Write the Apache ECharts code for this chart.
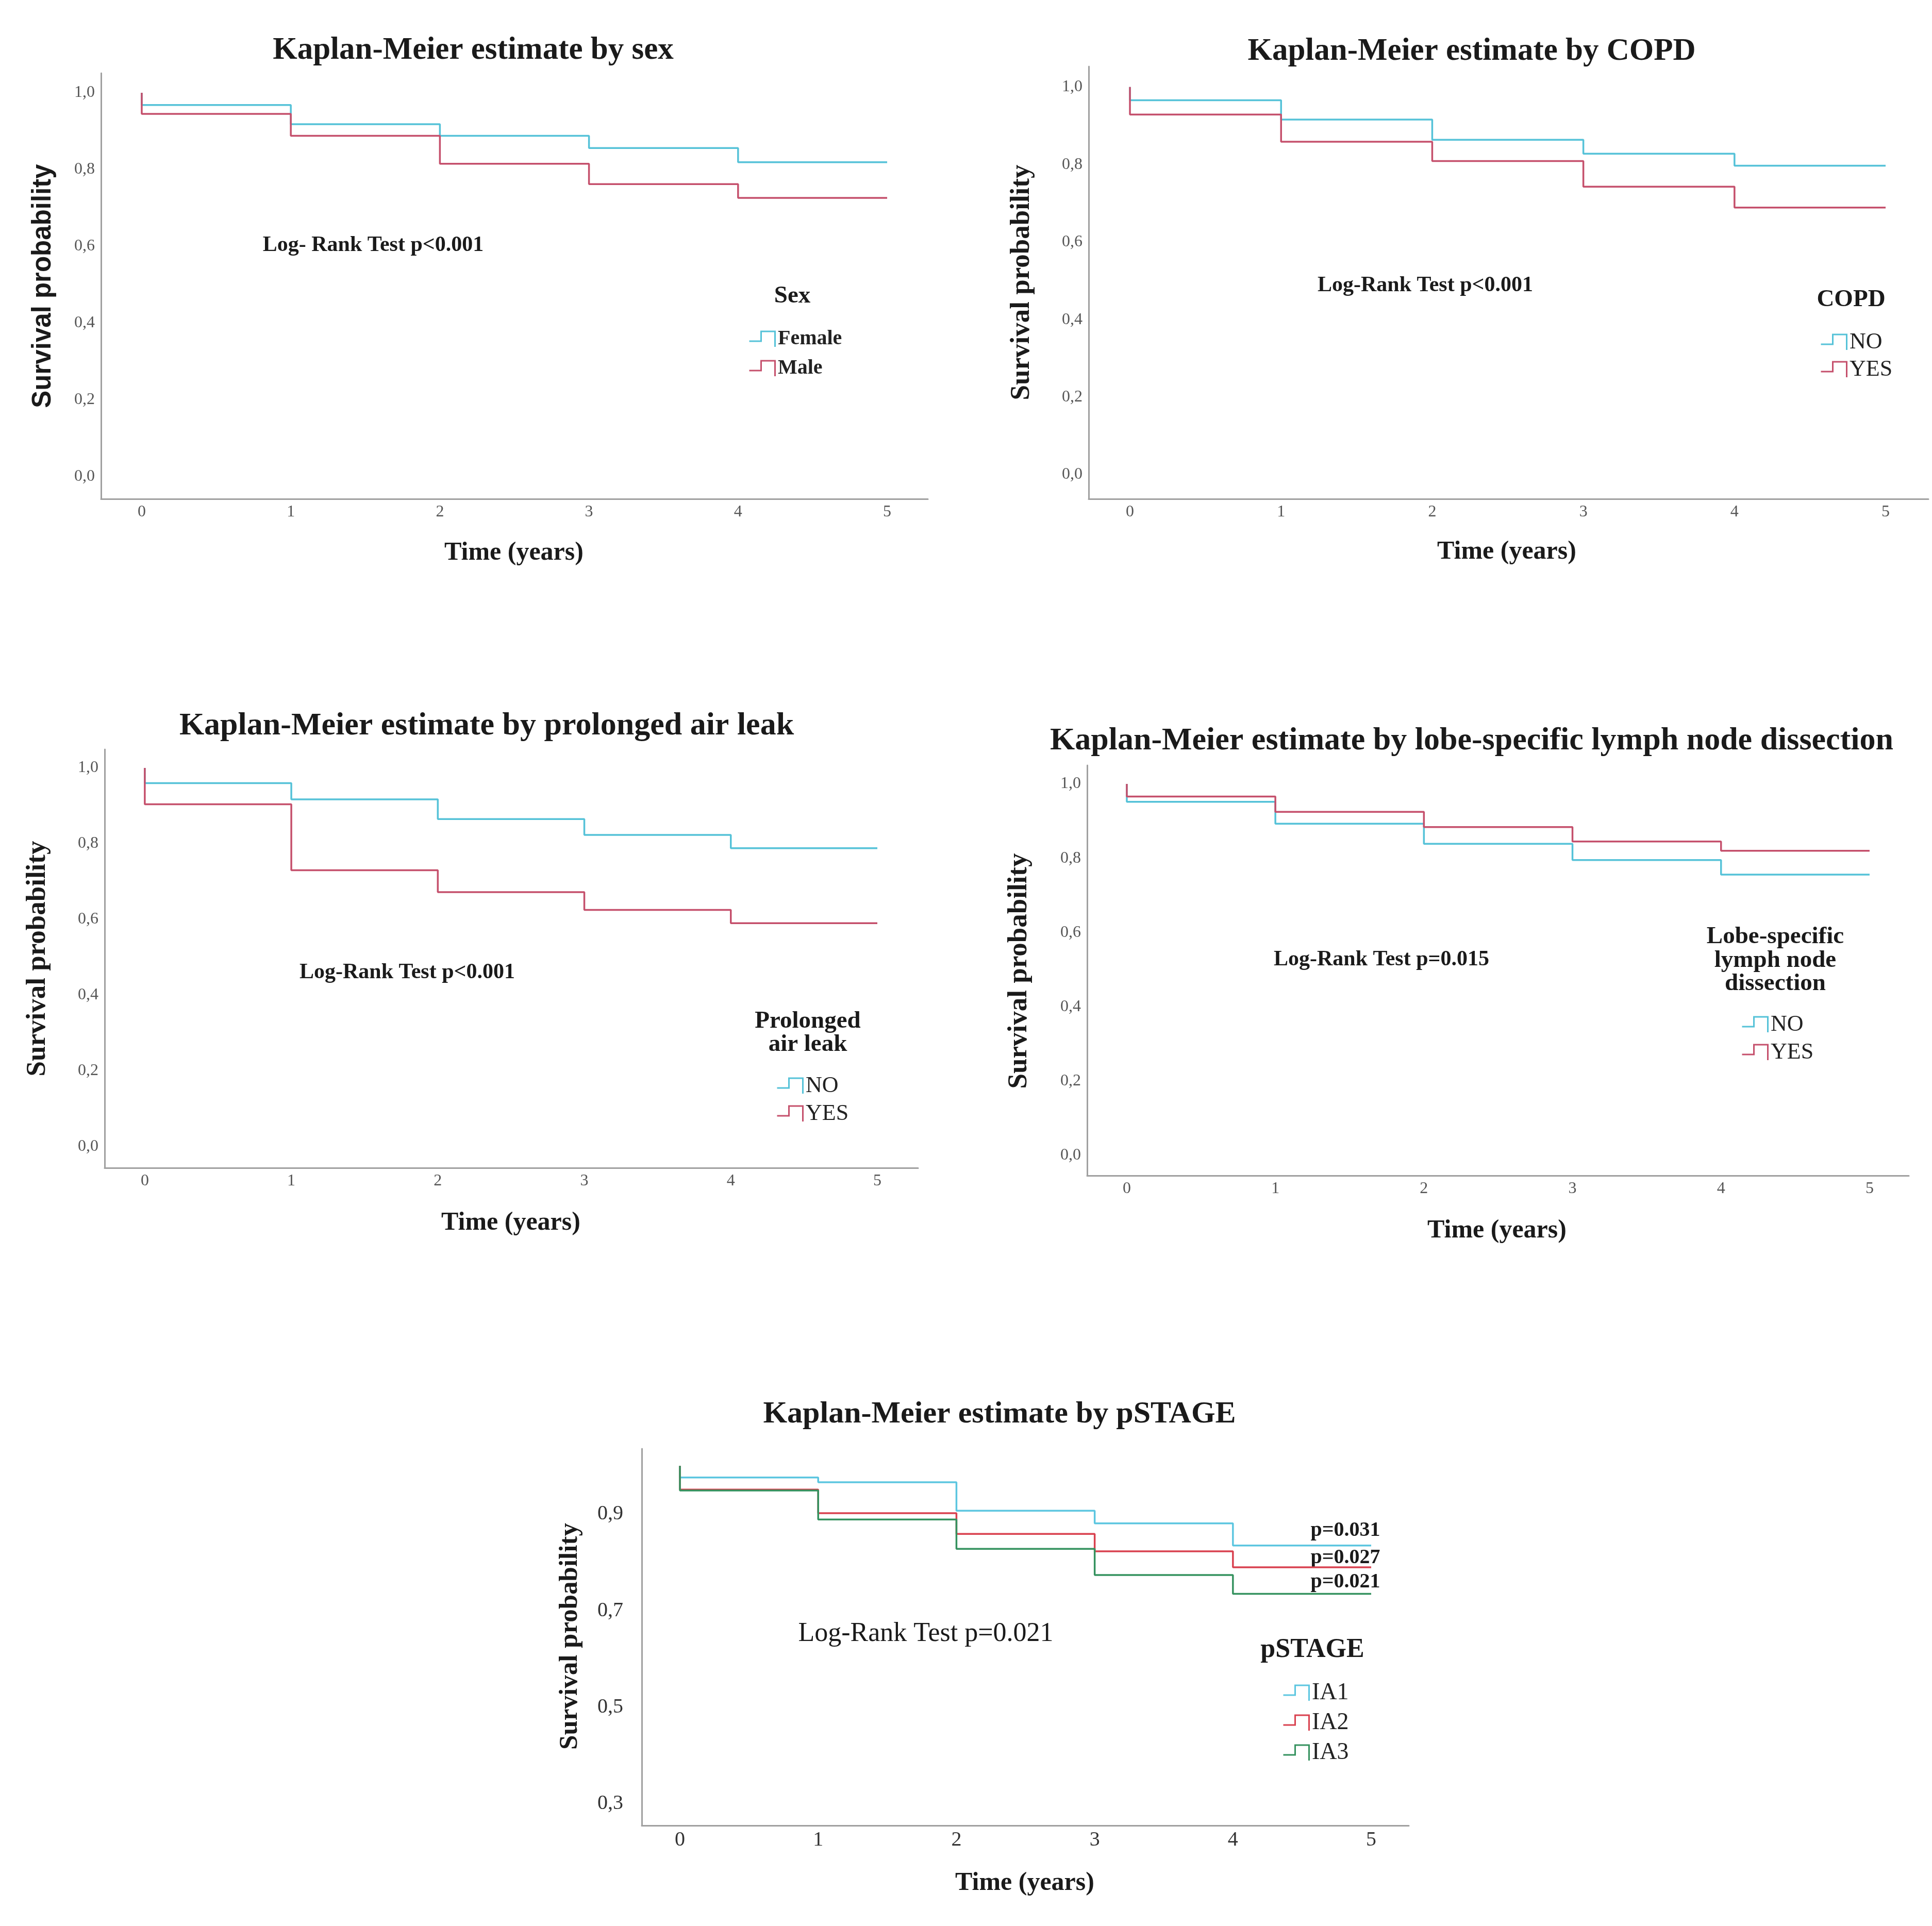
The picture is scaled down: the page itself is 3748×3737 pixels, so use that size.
<!DOCTYPE html>
<html>
<head>
<meta charset="utf-8">
<script src="https://cdn.jsdelivr.net/npm/echarts@6/dist/echarts.min.js"></script>
<style>
html,body{margin:0;padding:0;background:#fff;}
#chart{width:3748px;height:3737px;}
</style>
</head>
<body>
<div id="chart"></div>
<script>
// ---- data ----
const TIMES = [0, 1, 2, 3, 4, 5];
const Y_TICKS = [0, 0.2, 0.4, 0.6, 0.8, 1.0];
const Y_TICKS_STAGE = [0.3, 0.5, 0.7, 0.9];

const sexFemale = [1, 0.968, 0.918, 0.888, 0.856, 0.819];
const sexMale   = [1, 0.945, 0.888, 0.815, 0.762, 0.726];
const copdNo    = [1, 0.966, 0.916, 0.864, 0.828, 0.797];
const copdYes   = [1, 0.929, 0.859, 0.809, 0.743, 0.689];
const airNo     = [1, 0.960, 0.917, 0.865, 0.823, 0.788];
const airYes    = [1, 0.904, 0.730, 0.672, 0.625, 0.590];
const lobeNo    = [1, 0.952, 0.893, 0.839, 0.795, 0.756];
const lobeYes   = [1, 0.966, 0.925, 0.884, 0.845, 0.820];
const stageIA1  = [1, 0.976, 0.966, 0.907, 0.881, 0.835];
const stageIA2  = [1, 0.951, 0.902, 0.859, 0.823, 0.790];
const stageIA3  = [1, 0.949, 0.889, 0.828, 0.774, 0.735];

const CYAN = '#55c2d8', RED = '#c5506c';
const CYAN5 = '#5cc6e0', RED5 = '#d9414f', GREEN5 = '#35925f';
const SERIF = 'Liberation Serif', SANS = 'Liberation Sans';

function zip(vals) { return TIMES.map((t, i) => [t, vals[i]]); }

const grids = [
  {left: 196,  top: 142,  width: 1604, height: 826},
  {left: 2112, top: 129,  width: 1629, height: 839},
  {left: 203,  top: 1454, width: 1578, height: 812},
  {left: 2109, top: 1485, width: 1594, height: 796},
  {left: 1245, top: 2811, width: 1488, height: 731}
];
const xr = [[-0.273, 5.273], [-0.273, 5.283], [-0.274, 5.278], [-0.267, 5.264], [-0.276, 5.272]];
const yr = [[-0.058, 1.051], [-0.0625, 1.053], [-0.056, 1.049], [-0.054, 1.05], [0.255, 1.0355]];

const axisLine = {show: true, onZero: false, lineStyle: {color: '#a0a0a0', width: 3}};
const xAxes = xr.map((r, i) => ({
  type: 'value', gridIndex: i, min: r[0], max: r[1],
  axisLine: axisLine, axisTick: {show: false}, splitLine: {show: false},
  axisLabel: {customValues: TIMES, formatter: v => String(Math.round(v)),
    fontSize: i === 4 ? 40 : 32, fontFamily: SERIF, color: i === 4 ? '#333' : '#555', margin: i === 4 ? 8 : 10}
}));
const yAxes = yr.map((r, i) => ({
  type: 'value', gridIndex: i, min: r[0], max: r[1],
  axisLine: axisLine, axisTick: {show: false}, splitLine: {show: false},
  axisLabel: {customValues: i === 4 ? Y_TICKS_STAGE : Y_TICKS,
    formatter: v => v.toFixed(1).replace('.', ','),
    fontSize: i === 4 ? 40 : 32, fontFamily: SERIF, color: i === 4 ? '#333' : '#555', margin: i === 4 ? 36 : 12}
}));

function line(name, vals, idx, color) {
  return {type: 'line', name: name, xAxisIndex: idx, yAxisIndex: idx, step: 'start',
    showSymbol: false, symbol: 'none', animation: false,
    lineStyle: {color: color, width: 3.5}, itemStyle: {color: color}, data: zip(vals)};
}
const series = [
  line('Female', sexFemale, 0, CYAN), line('Male', sexMale, 0, RED),
  line('NO', copdNo, 1, CYAN), line('YES', copdYes, 1, RED),
  line('NO', airNo, 2, CYAN), line('YES', airYes, 2, RED),
  line('NO', lobeNo, 3, CYAN), line('YES', lobeYes, 3, RED),
  line('IA1', stageIA1, 4, CYAN5), line('IA2', stageIA2, 4, RED5), line('IA3', stageIA3, 4, GREEN5)
];

const ICON = 'path://M0,19L23,19L23,0L50,0L50,30';
function legend(left, top, gap, items, fs, weight) {
  return {left: left, top: top, orient: 'vertical', itemWidth: 51, itemHeight: 30, itemGap: gap,
    icon: ICON, selectedMode: false,
    textStyle: {fontFamily: SERIF, fontWeight: weight, fontSize: fs, lineHeight: 40, color: '#222'},
    data: items.map(it => ({name: it[0], itemStyle: {color: 'rgba(0,0,0,0)', borderColor: it[1], borderWidth: 3}}))};
}
const legends = [
  legend(1447, 633, 17, [['Female', CYAN], ['Male', RED]], 40, 'bold'),
  legend(3526, 637, 9, [['NO', CYAN], ['YES', RED]], 44, 'normal'),
  legend(1501, 2080, 10, [['NO', CYAN], ['YES', RED]], 44, 'normal'),
  legend(3373, 1961, 10, [['NO', CYAN], ['YES', RED]], 44, 'normal'),
  legend(2483, 3257, 12, [['IA1', CYAN5], ['IA2', RED5], ['IA3', GREEN5]], 46, 'normal')
];

function txt(text, x, y, size, opts) {
  opts = opts || {};
  return {type: 'text', x: x, y: y, rotation: opts.rot || 0, silent: true,
    style: {text: text, x: 0, y: 0, fontSize: size, fontFamily: opts.family || SERIF,
      fontWeight: opts.weight || 'bold', fill: opts.color || '#1a1a1a',
      textAlign: 'center', textVerticalAlign: 'middle', align: 'center', verticalAlign: 'middle'}};
}
const R = Math.PI / 2;
const graphics = [
  // titles
  txt('Kaplan-Meier estimate by sex', 918, 98, 61),
  txt('Kaplan-Meier estimate by COPD', 2855, 100, 61),
  txt('Kaplan-Meier estimate by prolonged air leak', 944, 1409, 62),
  txt('Kaplan-Meier estimate by lobe-specific lymph node dissection', 2855, 1438, 62),
  txt('Kaplan-Meier estimate by pSTAGE', 1939, 2744, 60),
  // y axis names
  txt('Survival probability', 84, 555, 51, {rot: R, family: SANS}),
  txt('Survival probability', 1982, 548, 53, {rot: R}),
  txt('Survival probability', 73, 1860, 53, {rot: R}),
  txt('Survival probability', 1977, 1884, 53, {rot: R}),
  txt('Survival probability', 1106, 3175, 51, {rot: R}),
  // x axis names
  txt('Time (years)', 997, 1073, 50),
  txt('Time (years)', 2923, 1071, 50),
  txt('Time (years)', 991, 2373, 50),
  txt('Time (years)', 2904, 2388, 50),
  txt('Time (years)', 1988, 3654, 50),
  // log-rank
  txt('Log- Rank Test p<0.001', 724, 476, 42),
  txt('Log-Rank Test p<0.001', 2765, 554, 42),
  txt('Log-Rank Test p<0.001', 790, 1887, 42),
  txt('Log-Rank Test p=0.015', 2680, 1862, 42),
  txt('Log-Rank Test p=0.021', 1796, 3170, 52, {weight: 'normal'}),
  // legend titles
  txt('Sex', 1537, 575, 47),
  txt('COPD', 3591, 582, 47),
  txt('Prolonged', 1567, 1982, 47),
  txt('air leak', 1567, 2027, 47),
  txt('Lobe-specific', 3444, 1818, 47),
  txt('lymph node', 3444, 1864, 47),
  txt('dissection', 3444, 1909, 47),
  txt('pSTAGE', 2546, 3202, 52),
  // p-values
  txt('p=0.031', 2610, 2970, 40),
  txt('p=0.027', 2610, 3023, 40),
  txt('p=0.021', 2610, 3070, 40)
];

const chart = echarts.init(document.getElementById('chart'), null, {renderer: 'canvas'});
chart.setOption({
  backgroundColor: '#ffffff',
  animation: false,
  grid: grids,
  xAxis: xAxes,
  yAxis: yAxes,
  legend: legends,
  series: series,
  graphic: graphics
});
</script>
</body>
</html>
